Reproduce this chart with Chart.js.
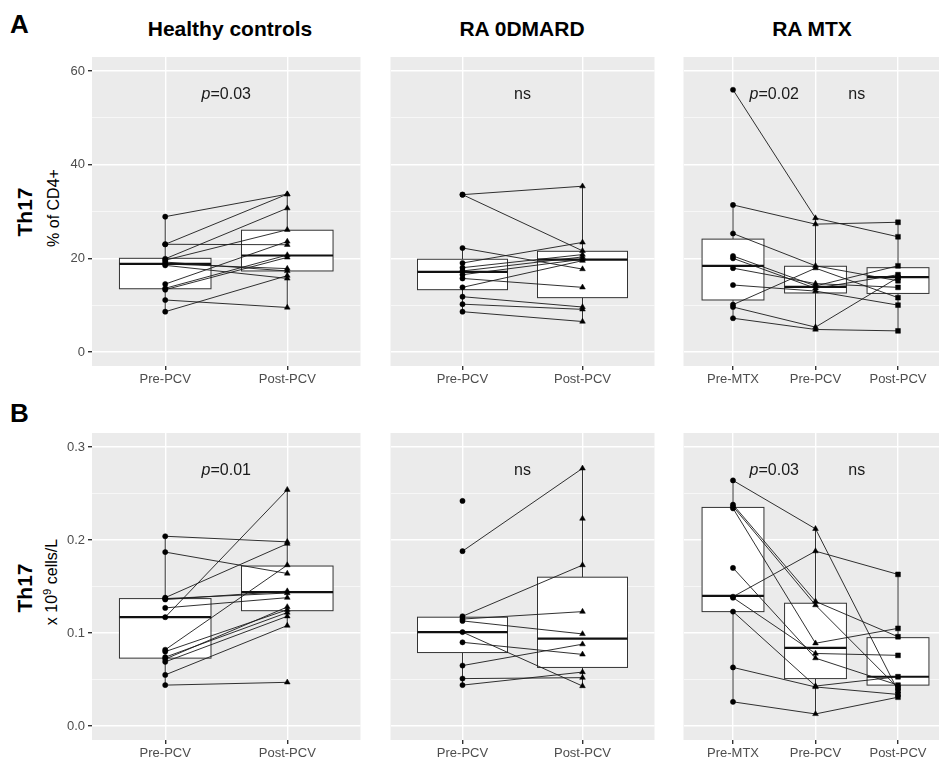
<!DOCTYPE html>
<html>
<head>
<meta charset="utf-8">
<script src="https://cdn.jsdelivr.net/npm/chart.js@4.4.1/dist/chart.umd.min.js"></script>
<style>
  html, body { margin: 0; padding: 0; background: #fff; overflow: hidden; width: 939px; height: 762px; }
  body { position: relative; font-family: "Liberation Sans", Arial, sans-serif; }
  canvas { position: absolute; }
  .lbl { position: absolute; white-space: nowrap; color: #000; line-height: 1; }
  .ctr { transform: translateX(-50%); }
  .rot { transform: translate(-50%, -50%) rotate(-90deg); }
</style>
</head>
<body>
<div class="lbl" style="left:10px;top:11px;font-size:26px;font-weight:bold">A</div>
<div class="lbl" style="left:10px;top:400px;font-size:26px;font-weight:bold">B</div>
<div class="lbl ctr" style="left:230px;top:18px;font-size:21px;font-weight:bold">Healthy controls</div>
<div class="lbl ctr" style="left:522px;top:18px;font-size:21px;font-weight:bold">RA 0DMARD</div>
<div class="lbl ctr" style="left:812px;top:18px;font-size:21px;font-weight:bold">RA MTX</div>
<div class="lbl rot" style="left:24px;top:212px;font-size:21px;font-weight:bold">Th17</div>
<div class="lbl rot" style="left:54px;top:208px;font-size:16px">% of CD4+</div>
<div class="lbl rot" style="left:24px;top:588px;font-size:21px;font-weight:bold">Th17</div>
<div class="lbl rot" style="left:52px;top:582px;font-size:16px">x 10<span style="font-size:0.7em;position:relative;top:-0.5em">9</span> cells/L</div>

<script>
// categories
const groupsPCV = ['Pre-PCV', 'Post-PCV'];
const groupsMTX = ['Pre-MTX', 'Pre-PCV', 'Post-PCV'];

// y axis ticks
const yMajorPct = [0, 20, 40, 60];
const yMinorPct = [10, 30, 50];
const yMajorAbs = [0, 0.1, 0.2, 0.3];
const yMinorAbs = [0.05, 0.15, 0.25];

// Th17 % of CD4+ (one entry per subject, same index = same subject)
const hcPctPre  = [28.9, 23.0, 23.0, 19.9, 19.6, 19.2, 18.8, 14.5, 13.6, 13.3, 11.1, 8.6, 18.5];
const hcPctPost = [33.7, 33.7, 22.9, 30.7, 26.1, 17.3, 17.8, 23.6, 20.7, 20.2, 9.5, 16.3, 15.7];

const raPctPre  = [33.6, 33.6, 22.2, 19.0, 18.0, 17.3, 16.5, 15.7, 13.8, 11.8, 10.2, 8.6];
const raPctPost = [35.4, 21.6, 17.7, 23.4, 20.8, 20.3, 19.8, 13.8, 19.5, 9.6, 9.1, 6.5];

const mtxPctPreMtx  = [56.0, 31.4, 25.3, 20.5, 20.0, 17.9, 14.3, 10.1, 9.6, 7.2];
const mtxPctPrePcv  = [28.6, 27.3, 18.4, 14.1, 13.6, 14.6, 13.0, 17.9, 5.3, 4.8];
const mtxPctPostPcv = [24.6, 27.7, 15.2, 18.4, 16.5, 13.8, 10.0, 11.6, 15.9, 4.5];

// Th17 x10^9 cells/L
const hcAbsPre  = [0.204, 0.187, 0.138, 0.137, 0.136, 0.127, 0.117, 0.082, 0.080, 0.074, 0.072, 0.069, 0.055, 0.044];
const hcAbsPost = [0.198, 0.164, 0.196, 0.143, 0.145, 0.138, 0.254, 0.173, 0.125, 0.122, 0.128, 0.118, 0.108, 0.047];

const raAbsPre  = [0.242, 0.188, 0.118, 0.115, 0.113, 0.101, 0.090, 0.065, 0.051, 0.044, null];
const raAbsPost = [null, 0.277, 0.173, 0.123, 0.099, 0.043, 0.077, 0.088, 0.052, 0.058, 0.223];

const mtxAbsPreMtx  = [0.264, 0.238, 0.236, 0.234, 0.170, 0.139, 0.138, 0.123, 0.063, 0.026];
const mtxAbsPrePcv  = [0.212, 0.134, 0.130, 0.089, 0.073, 0.188, 0.078, 0.043, 0.042, 0.013];
const mtxAbsPostPcv = [0.038, 0.096, 0.041, 0.105, 0.044, 0.163, 0.076, 0.053, 0.034, 0.031];

// boxplot stats: [lower whisker, Q1, median, Q3, upper whisker]
const hcPctBox  = [[8.6, 13.5, 18.8, 20.0, 28.9], [9.5, 17.3, 20.6, 26.0, 33.7]];
const raPctBox  = [[8.6, 13.3, 17.1, 19.8, 22.2], [6.5, 11.6, 19.7, 21.5, 35.4]];
const mtxPctBox = [[7.2, 11.1, 18.4, 24.1, 31.4], [4.8, 12.6, 13.9, 18.3, 28.6], [4.5, 12.5, 16.0, 18.0, 27.7]];
const hcAbsBox  = [[0.044, 0.073, 0.117, 0.137, 0.204], [0.108, 0.124, 0.144, 0.172, 0.254]];
const raAbsBox  = [[0.044, 0.079, 0.101, 0.117, 0.117], [0.043, 0.063, 0.094, 0.160, 0.277]];
const mtxAbsBox = [[0.026, 0.123, 0.140, 0.235, 0.264], [0.013, 0.051, 0.084, 0.132, 0.212], [0.031, 0.044, 0.053, 0.095, 0.163]];

Chart.defaults.font.family = '"Liberation Sans", Arial, sans-serif';
Chart.defaults.animation = false;

const panelLeft = [92, 386, 679];
const panelTop = [57, 433];
const panelH = [309, 307];
const panelW = 273;
const yAxisW = 92;
const xAxisH = 30;
const padTop = 15;

const shapes = ['circle', 'triangle', 'rect'];
const radius = { circle: 2.6, triangle: 3.3, rect: 3.4 };

const panels = [
  { row: 0, col: 0, cats: groupsPCV, series: [hcPctPre, hcPctPost], boxes: hcPctBox, major: yMajorPct, minor: yMinorPct, min: -3, max: 63, notes: [[1.5, 55, 'p=0.03']] },
  { row: 0, col: 1, cats: groupsPCV, series: [raPctPre, raPctPost], boxes: raPctBox, major: yMajorPct, minor: yMinorPct, min: -3, max: 63, notes: [[1.5, 55, 'ns']] },
  { row: 0, col: 2, cats: groupsMTX, series: [mtxPctPreMtx, mtxPctPrePcv, mtxPctPostPcv], shapes: ['circle', 'triangle', 'rect'], boxes: mtxPctBox, major: yMajorPct, minor: yMinorPct, min: -3, max: 63, notes: [[1.5, 55, 'p=0.02'], [2.5, 55, 'ns']] },
  { row: 1, col: 0, cats: groupsPCV, series: [hcAbsPre, hcAbsPost], boxes: hcAbsBox, major: yMajorAbs, minor: yMinorAbs, min: -0.015, max: 0.315, notes: [[1.5, 0.275, 'p=0.01']] },
  { row: 1, col: 1, cats: groupsPCV, series: [raAbsPre, raAbsPost], boxes: raAbsBox, major: yMajorAbs, minor: yMinorAbs, min: -0.015, max: 0.315, notes: [[1.5, 0.275, 'ns']] },
  { row: 1, col: 2, cats: groupsMTX, series: [mtxAbsPreMtx, mtxAbsPrePcv, mtxAbsPostPcv], boxes: mtxAbsBox, major: yMajorAbs, minor: yMinorAbs, min: -0.015, max: 0.315, notes: [[1.5, 0.275, 'p=0.03'], [2.5, 0.275, 'ns']] }
];

const boxPlugin = {
  id: 'boxes',
  beforeDatasetsDraw(chart) {
    const p = chart.options.plugins.boxes;
    const xs = chart.scales.x, ys = chart.scales.y, ctx = chart.ctx;
    ctx.save();
    p.stats.forEach((b, i) => {
      const cx = xs.getPixelForValue(i + 1);
      const hw = xs.getPixelForValue(i + 1 + 0.375) - cx;
      const [lo, q1, med, q3, hi] = b.map(v => ys.getPixelForValue(v));
      ctx.strokeStyle = '#333333';
      ctx.lineWidth = 1;
      ctx.beginPath();
      ctx.moveTo(cx, q3); ctx.lineTo(cx, hi);
      ctx.moveTo(cx, q1); ctx.lineTo(cx, lo);
      ctx.stroke();
      ctx.fillStyle = '#ffffff';
      ctx.fillRect(cx - hw, q3, 2 * hw, q1 - q3);
      ctx.strokeRect(cx - hw, q3, 2 * hw, q1 - q3);
      ctx.lineWidth = 2.2;
      ctx.strokeStyle = '#111';
      ctx.beginPath();
      ctx.moveTo(cx - hw, med); ctx.lineTo(cx + hw, med);
      ctx.stroke();
    });
    ctx.restore();
  },
  afterDatasetsDraw(chart) {
    const p = chart.options.plugins.boxes;
    const xs = chart.scales.x, ys = chart.scales.y, ctx = chart.ctx;
    ctx.save();
    ctx.fillStyle = '#1a1a1a';
    ctx.textBaseline = 'middle';
    ctx.textAlign = 'left';
    p.notes.forEach(([x, y, txt]) => {
      const px = xs.getPixelForValue(x), py = ys.getPixelForValue(y);
      if (txt.startsWith('p=')) {
        ctx.font = 'italic 16px "Liberation Sans", Arial, sans-serif';
        const w1 = ctx.measureText('p').width;
        ctx.font = '16px "Liberation Sans", Arial, sans-serif';
        const w2 = ctx.measureText(txt.slice(1)).width;
        const x0 = px - (w1 + w2) / 2;
        ctx.font = 'italic 16px "Liberation Sans", Arial, sans-serif';
        ctx.fillText('p', x0, py);
        ctx.font = '16px "Liberation Sans", Arial, sans-serif';
        ctx.fillText(txt.slice(1), x0 + w1, py);
      } else {
        ctx.font = '16px "Liberation Sans", Arial, sans-serif';
        ctx.textAlign = 'center';
        ctx.fillText(txt, px, py);
        ctx.textAlign = 'left';
      }
    });
    ctx.restore();
  }
};

// panel background
const bgPlugin = {
  id: 'panelBg',
  beforeDraw(chart) {
    const a = chart.chartArea, ctx = chart.ctx;
    ctx.save();
    ctx.fillStyle = '#EBEBEB';
    ctx.fillRect(a.left, a.top, a.right - a.left, a.bottom - a.top);
    ctx.restore();
  }
};

panels.forEach(p => {
  const first = p.col === 0;
  const canvas = document.createElement('canvas');
  const w = (first ? yAxisW : 0) + panelW;
  const h = padTop + panelH[p.row] + xAxisH;
  canvas.width = w; canvas.height = h;
  canvas.style.left = (first ? 0 : panelLeft[p.col]) + 'px';
  canvas.style.top = (panelTop[p.row] - padTop) + 'px';
  canvas.style.width = w + 'px'; canvas.style.height = h + 'px';
  document.body.appendChild(canvas);

  const n = p.series[0].length;
  const lines = [];
  for (let i = 0; i < n; i++) {
    const pts = p.series.map((s, g) => ({ x: g + 1, y: s[i] })).filter(q => q.y != null);
    lines.push({
      data: pts, showLine: true, pointRadius: 0, borderColor: '#1a1a1a',
      borderWidth: 0.9, order: 2
    });
  }
  const points = p.series.map((s, g) => ({
    data: s.filter(v => v != null).map(v => ({ x: g + 1, y: v })),
    pointStyle: shapes[g], pointRadius: radius[shapes[g]],
    backgroundColor: '#000', borderColor: '#000', borderWidth: 0.5, order: 1
  }));

  const isMajor = v => p.major.includes(v);
  new Chart(canvas, {
    type: 'scatter',
    data: { datasets: points.concat(lines) },
    options: {
      responsive: false,
      devicePixelRatio: 1,
      layout: { padding: { top: padTop, left: 0, right: 0, bottom: 0 } },
      plugins: {
        legend: { display: false },
        tooltip: { enabled: false },
        boxes: { stats: p.boxes, notes: p.notes }
      },
      scales: {
        x: {
          type: 'linear', min: 0.4, max: p.cats.length + 0.6,
          afterBuildTicks: s => { s.ticks = p.cats.map((c, i) => ({ value: i + 1 })); },
          afterFit: s => { s.height = xAxisH; },
          border: { display: false },
          grid: { color: '#ffffff', lineWidth: 1.4, tickColor: '#333333', tickLength: 4 },
          ticks: {
            callback: v => p.cats[Math.round(v) - 1],
            color: '#4D4D4D', font: { size: 13 }, padding: 2, maxRotation: 0, autoSkip: false
          }
        },
        y: {
          type: 'linear', min: p.min, max: p.max,
          afterBuildTicks: s => { s.ticks = p.major.concat(p.minor).sort((a, b) => a - b).map(v => ({ value: v })); },
          afterFit: s => { s.width = first ? yAxisW : 0; },
          border: { display: false },
          grid: {
            color: '#ffffff',
            lineWidth: c => isMajor(c.tick.value) ? 1.4 : 0.6,
            tickColor: c => isMajor(c.tick.value) ? '#333333' : 'rgba(0,0,0,0)',
            tickLength: 4,
            drawTicks: first
          },
          ticks: {
            display: first,
            callback: v => isMajor(v) ? (p.max < 1 ? v.toFixed(1) : String(v)) : '',
            color: '#4D4D4D', font: { size: 13 }, padding: 3, autoSkip: false
          }
        }
      }
    },
    plugins: [bgPlugin, boxPlugin]
  });
});
</script>
</body>
</html>
